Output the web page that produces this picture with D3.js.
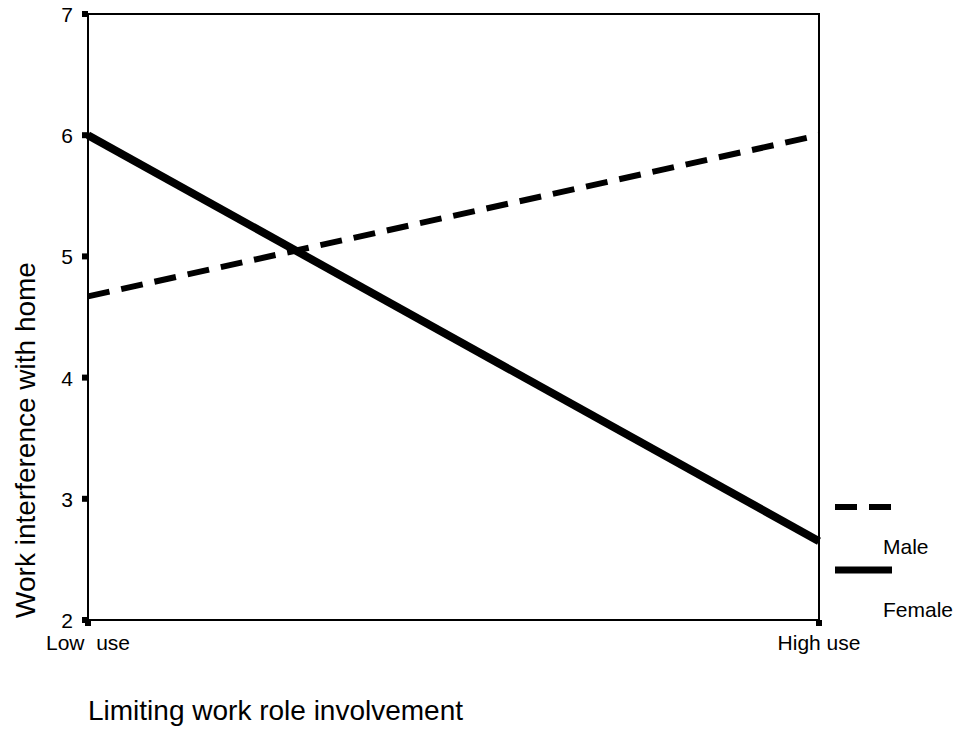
<!DOCTYPE html>
<html><head><meta charset="utf-8">
<script src="https://cdn.jsdelivr.net/npm/d3@7"></script>
<style>body{margin:0;background:#fff;}svg{display:block;font-family:Arial,"Liberation Sans",sans-serif;}</style>
</head><body>
<script>
const categories = ["Low use", "High use"];
const categoryLabels = ["Low  use", "High use"];
const maleValues = [4.67, 6.0];
const femaleValues = [6.0, 2.65];
const yTicks = [2, 3, 4, 5, 6, 7];
const seriesNames = ["Male", "Female"];

const W = 959, H = 732;
const svg = d3.select("body").append("svg").attr("width", W).attr("height", H);
const L = 88, R = 819, T = 14, B = 620;
const x = d3.scalePoint().domain(categories).range([L, R]);
const y = d3.scaleLinear().domain([2, 7]).range([B, T]);

// frame
svg.append("rect").attr("x", L).attr("y", T).attr("width", R - L).attr("height", B - T)
  .attr("fill", "none").attr("stroke", "#000").attr("stroke-width", 2);

// y ticks
yTicks.forEach(v => {
  svg.append("rect").attr("x", L - 6).attr("y", y(v) - 3).attr("width", 6).attr("height", 6).attr("fill", "#000");
  svg.append("text").attr("x", 73).attr("y", y(v) + 8).attr("text-anchor", "end")
    .attr("font-size", 21).text(v);
});
// x ticks
categories.forEach((c, i) => {
  svg.append("rect").attr("x", x(c) - 3).attr("y", B).attr("width", 6).attr("height", 6).attr("fill", "#000");
  svg.append("text").attr("x", x(c)).attr("y", 650).attr("text-anchor", "middle")
    .attr("font-size", 21).attr("xml:space", "preserve").style("white-space", "pre").text(categoryLabels[i]);
});

const line = d3.line().x((d, i) => x(categories[i])).y(d => y(d));
svg.append("path").datum(maleValues).attr("d", line).attr("fill", "none").attr("stroke", "#000")
  .attr("stroke-width", 6).attr("stroke-dasharray", "22,12");
svg.append("path").datum(femaleValues).attr("d", line).attr("fill", "none").attr("stroke", "#000")
  .attr("stroke-width", 8);

// legend
svg.append("line").attr("x1", 835).attr("x2", 892).attr("y1", 507).attr("y2", 507)
  .attr("stroke", "#000").attr("stroke-width", 6).attr("stroke-dasharray", "22,12");
svg.append("text").attr("x", 883).attr("y", 554).attr("font-size", 21).text(seriesNames[0]);
svg.append("line").attr("x1", 835).attr("x2", 892).attr("y1", 570).attr("y2", 570)
  .attr("stroke", "#000").attr("stroke-width", 7);
svg.append("text").attr("x", 883).attr("y", 617).attr("font-size", 21).text(seriesNames[1]);

// axis titles
svg.append("text").attr("transform", "translate(35,440) rotate(-90)").attr("text-anchor", "middle")
  .attr("font-size", 28).text("Work interference with home");
svg.append("text").attr("x", 88).attr("y", 720).attr("font-size", 28).text("Limiting work role involvement");
</script>
</body></html>
